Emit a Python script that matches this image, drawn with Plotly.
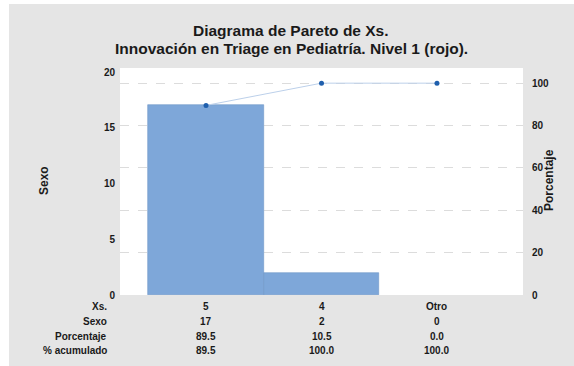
import plotly.graph_objects as go

# Pareto data
categorias = ["5", "4", "Otro"]
conteos = [17, 2, 0]
porcentajes = [89.5, 10.5, 0.0]
acumulados = [89.5, 100.0, 100.0]
filas_tabla = ["Xs.", "Sexo", "Porcentaje", "% acumulado"]

W, H = 574, 366
L, R, T, B = 120, 51, 68, 71
PW, PH = W - L - R, H - T - B

def px_x(p):
    return (p - L) / PW

def px_y(p):
    return (H - B - p) / PH

total = sum(conteos)
top_left = 20.36
top_right = top_left * 100.0 / total

posiciones = list(range(len(categorias)))
FONT = "Liberation Sans, Arial, sans-serif"
INK = "#1a1a1a"

fig = go.Figure()
fig.add_trace(go.Bar(
    x=posiciones, y=conteos, width=1.0,
    marker=dict(color="#7ea7d9",
                line=dict(color="#6e96c8",
                          width=[0.6 if c > 0 else 0 for c in conteos])),
    hoverinfo="skip", showlegend=False,
))
fig.add_trace(go.Scatter(
    x=posiciones, y=acumulados, yaxis="y2", mode="lines+markers",
    line=dict(color="#bcd0ea", width=1),
    marker=dict(color="#1f5fad", size=5),
    showlegend=False, hoverinfo="skip",
))

annotations = []
# table below the chart
valores_tabla = [
    categorias,
    [str(v) for v in conteos],
    [f"{v:.1f}" for v in porcentajes],
    [f"{v:.1f}" for v in acumulados],
]
filas_y = [306, 321, 336, 350]
for etiqueta, vals, yp in zip(filas_tabla, valores_tabla, filas_y):
    annotations.append(dict(
        x=px_x(109), y=px_y(yp), xref="paper", yref="paper",
        text=f"<b>{etiqueta}</b>", showarrow=False, xanchor="right", yanchor="middle",
        font=dict(family=FONT, size=10, color=INK),
    ))
    for xi, v in zip(posiciones, vals):
        annotations.append(dict(
            x=xi, y=px_y(yp), xref="x", yref="paper",
            text=f"<b>{v}</b>", showarrow=False, xanchor="center", yanchor="middle",
            font=dict(family=FONT, size=10, color=INK),
        ))

# axis titles
annotations.append(dict(
    x=px_x(35), y=px_y(181), xref="paper", yref="paper", text="<b>Sexo</b>",
    textangle=-90, showarrow=False, font=dict(family=FONT, size=12, color=INK),
))
annotations.append(dict(
    x=px_x(558), y=px_y(180), xref="paper", yref="paper", text="<b>Porcentaje</b>",
    textangle=-90, showarrow=False, font=dict(family=FONT, size=12, color=INK),
))
# two-line title
annotations.append(dict(
    x=px_x(291), y=px_y(30), xref="paper", yref="paper",
    text="<b>Diagrama de Pareto de Xs.</b>",
    showarrow=False, xanchor="center", yanchor="middle",
    font=dict(family=FONT, size=15.5, color=INK),
))
annotations.append(dict(
    x=px_x(291), y=px_y(48), xref="paper", yref="paper",
    text="<b>Innovación en Triage en Pediatría. Nivel 1 (rojo).</b>",
    showarrow=False, xanchor="center", yanchor="middle",
    font=dict(family=FONT, size=15.5, color=INK),
))

shapes = [
    dict(type="rect", xref="paper", yref="paper", layer="below",
         x0=px_x(-5), x1=px_x(9), y0=px_y(H + 5), y1=px_y(-5),
         fillcolor="white", line=dict(width=0)),
    dict(type="rect", xref="paper", yref="paper", layer="below",
         x0=px_x(-5), x1=px_x(W + 5), y0=px_y(4), y1=px_y(-5),
         fillcolor="white", line=dict(width=0)),
]

fig.update_layout(
    width=W, height=H,
    margin=dict(l=L, r=R, t=T, b=B, pad=0),
    paper_bgcolor="#e5e5e5", plot_bgcolor="white",
    bargap=0,
    xaxis=dict(range=[-0.745, 2.745], showticklabels=False, showgrid=False,
               zeroline=False, ticks="", fixedrange=True),
    yaxis=dict(range=[0, top_left], tickvals=[0, 5, 10, 15, 20],
               ticktext=["<b>0</b>", "<b>5</b>", "<b>10</b>", "<b>15</b>", "<b>20</b>"],
               showgrid=False, zeroline=False, ticks="", ticklabelstandoff=4,
               tickfont=dict(family=FONT, size=10, color=INK)),
    yaxis2=dict(range=[0, top_right], tickvals=[0, 20, 40, 60, 80, 100],
                ticktext=["<b>0</b>", "<b>20</b>", "<b>40</b>", "<b>60</b>",
                          "<b>80</b>", "<b>100</b>"],
                overlaying="y", side="right", showgrid=True, griddash="dash",
                gridcolor="#dcdcdc", gridwidth=1, zeroline=False, ticks="",
                ticklabelstandoff=8,
                tickfont=dict(family=FONT, size=10, color=INK)),
    annotations=annotations,
    shapes=shapes,
)

fig.write_html("out.html")
